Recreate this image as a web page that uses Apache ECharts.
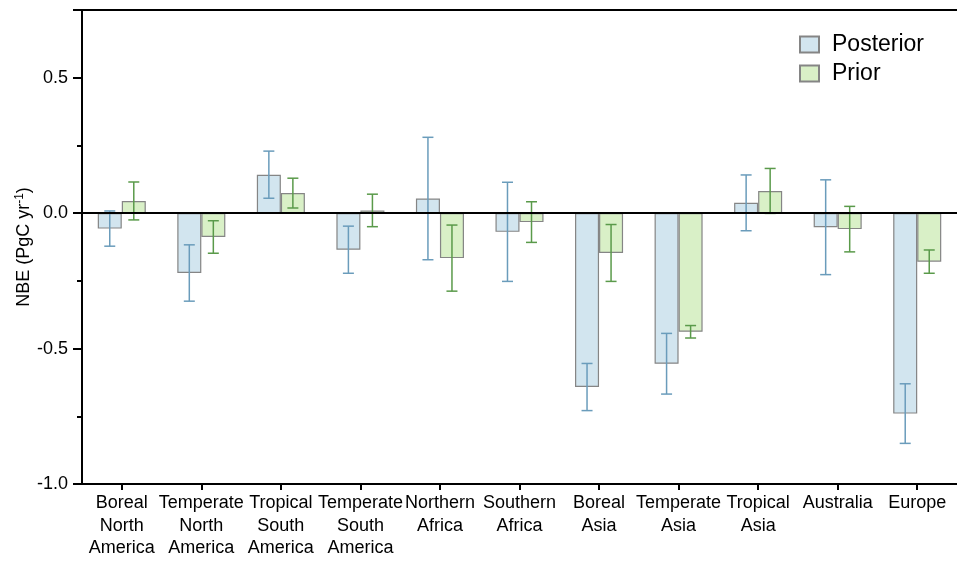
<!DOCTYPE html>
<html>
<head>
<meta charset="utf-8">
<script src="https://cdn.jsdelivr.net/npm/echarts@6/dist/echarts.min.js"></script>
<style>html,body{margin:0;padding:0;background:#fff}#c{width:957px;height:563px}</style>
</head>
<body>
<div id="c"></div>
<script>
const categories = ['Boreal\nNorth\nAmerica','Temperate\nNorth\nAmerica','Tropical\nSouth\nAmerica','Temperate\nSouth\nAmerica','Northern\nAfrica','Southern\nAfrica','Boreal\nAsia','Temperate\nAsia','Tropical\nAsia','Australia','Europe'];
const posterior = [-0.057, -0.221, 0.142, -0.135, 0.054, -0.069, -0.642, -0.556, 0.038, -0.052, -0.740];
const posteriorErr = [0.065, 0.104, 0.087, 0.087, 0.226, 0.183, 0.087, 0.112, 0.103, 0.175, 0.110];
const prior = [0.045, -0.088, 0.074, 0.010, -0.166, -0.033, -0.147, -0.438, 0.082, -0.059, -0.179];
const priorErr = [0.070, 0.060, 0.055, 0.060, 0.122, 0.075, 0.105, 0.023, 0.083, 0.084, 0.043];
const yTickLabels = ['-1.0','-0.5','0.0','0.5'];

const FONT = "'Liberation Sans', Arial, sans-serif";
const GAP = 0.396;

function errData(vals, errs) {
  return vals.map((v, i) => [i, v - errs[i], v + errs[i]]);
}
function errSeries(name, vals, errs, side, color) {
  return {
    type: 'custom', name: name + ' err', z: 5, silent: true,
    data: errData(vals, errs),
    encode: { x: 0, y: [1, 2] },
    renderItem: function (params, api) {
      const xc = api.coord([api.value(0), 0])[0];
      const band = api.size([1, 0])[0];
      const bw = band * (1 - GAP) / 2;
      const cx = xc + side * bw / 2;
      const lo = api.coord([api.value(0), api.value(1)])[1];
      const hi = api.coord([api.value(0), api.value(2)])[1];
      const cap = 5.5;
      const st = { stroke: color, lineWidth: 1.5 };
      return { type: 'group', children: [
        { type: 'line', shape: { x1: cx, y1: lo, x2: cx, y2: hi }, style: st },
        { type: 'line', shape: { x1: cx - cap, y1: lo, x2: cx + cap, y2: lo }, style: st },
        { type: 'line', shape: { x1: cx - cap, y1: hi, x2: cx + cap, y2: hi }, style: st }
      ]};
    }
  };
}

const chart = echarts.init(document.getElementById('c'), null, { renderer: 'canvas' });
chart.setOption({
  animation: false,
  textStyle: { fontFamily: FONT },
  grid: { left: 82, right: 0, top: 10, bottom: 79, containLabel: false, outerBoundsMode: 'none' },
  legend: {
    data: ['Posterior', 'Prior'], orient: 'vertical', left: 794, top: 28,
    itemWidth: 19, itemHeight: 16, itemGap: 6, icon: 'rect',
    textStyle: { fontSize: 23, color: '#000', fontFamily: FONT, padding: [0, 0, 0, 8] }
  },
  xAxis: [{
    type: 'category', data: categories, position: 'bottom',
    axisLine: { onZero: false, lineStyle: { color: '#000', width: 2 } },
    axisTick: { show: true, alignWithLabel: true, length: 6, inside: false, lineStyle: { color: '#000', width: 2 } },
    axisLabel: { color: '#000', fontSize: 18, lineHeight: 22.5, margin: 8, interval: 0, fontFamily: FONT }
  }, {
    type: 'category', data: categories, position: 'top',
    axisLine: { onZero: false, lineStyle: { color: '#000', width: 2 } },
    axisTick: { show: false }, axisLabel: { show: false }
  }],
  yAxis: {
    type: 'value', min: -1, max: 0.75, interval: 0.5,
    name: 'NBE (PgC yr{sup|-1})', nameLocation: 'middle', nameGap: 47, nameMoveOverlap: false,
    nameTextStyle: { fontSize: 18, color: '#000', fontFamily: FONT,
      rich: { sup: { fontSize: 12, verticalAlign: 'top', padding: [0, 0, 9, 0], color: '#000', fontFamily: FONT } } },
    axisLine: { show: true, onZero: false, lineStyle: { color: '#000', width: 2 } },
    axisTick: { show: true, length: 9, lineStyle: { color: '#000', width: 2 } },
    minorTick: { show: true, splitNumber: 2, length: 5, lineStyle: { color: '#000', width: 2 } },
    splitLine: { show: false },
    axisLabel: { color: '#000', fontSize: 18, margin: 14, fontFamily: FONT,
      formatter: function (v) {
        const s = (Math.round(v * 10) / 10).toFixed(1);
        return yTickLabels.indexOf(s) >= 0 && Math.abs(v * 2 - Math.round(v * 2)) < 1e-6 ? s : '';
      } }
  },
  series: [{
    name: 'Posterior', type: 'bar', data: posterior, barGap: '0%', barCategoryGap: (GAP * 100) + '%',
    itemStyle: { color: '#d2e5ef', borderColor: '#858585', borderWidth: 1.2 },
    markLine: { silent: true, symbol: 'none', label: { show: false },
      lineStyle: { color: '#000', width: 2, type: 'solid' }, data: [{ yAxis: 0 }], z: 6 }
  }, {
    name: 'Prior', type: 'bar', data: prior,
    itemStyle: { color: '#d9f0c7', borderColor: '#858585', borderWidth: 1.2 }
  },
  errSeries('Posterior', posterior, posteriorErr, -1, '#6a9cbb'),
  errSeries('Prior', prior, priorErr, 1, '#5a9a4a')
  ]
});
</script>
</body>
</html>
